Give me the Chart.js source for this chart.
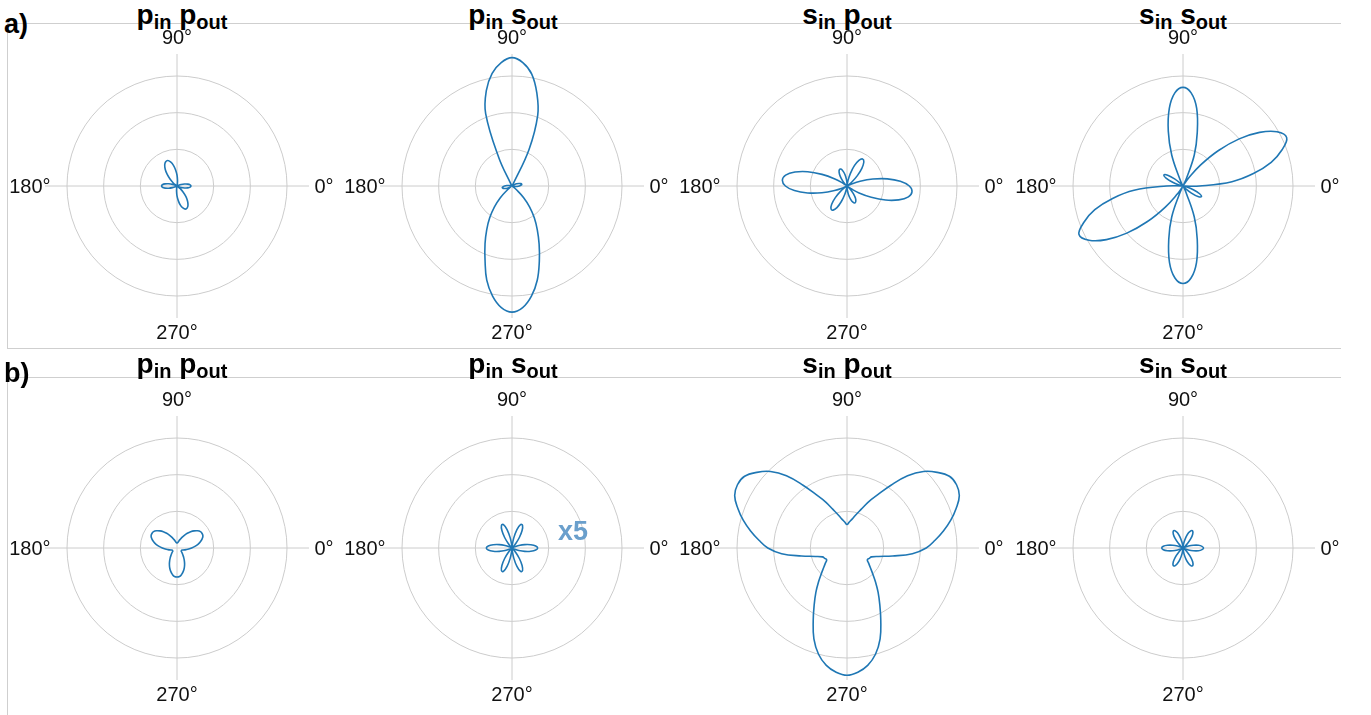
<!DOCTYPE html>
<html>
<head>
<meta charset="utf-8">
<script src="https://cdn.jsdelivr.net/npm/chart.js@4.4.1/dist/chart.umd.min.js"></script>
<style>
  html, body { margin: 0; padding: 0; background: #ffffff; }
  body { width: 1371px; height: 715px; position: relative; overflow: hidden;
         font-family: "Liberation Sans", Arial, sans-serif; }
  canvas { position: absolute; }
  .rule { position: absolute; background: #cfcfcf; }
  .title { position: absolute; font-weight: bold; font-size: 28px; line-height: 28px;
           white-space: nowrap; color: #000; transform: translateX(-50%); }
  .title sub { font-size: 20px; vertical-align: -5px; line-height: 0; }
  .tag { position: absolute; font-weight: bold; font-size: 27px; line-height: 27px; color: #000; }
</style>
</head>
<body>
<script>
// Polar SHG intensity patterns, one series per polarisation channel.
// Each series holds the radius sampled every 5 degrees, starting at 0 deg (counter-clockwise).
const sampleStepDeg = 5;
const cardinalLabels = ['0°', '90°', '180°', '270°'];
const rowTags = ['a)', 'b)'];
const panelTitles = [
  [['p', 'in'], ['p', 'out']],
  [['p', 'in'], ['s', 'out']],
  [['s', 'in'], ['p', 'out']],
  [['s', 'in'], ['s', 'out']]
];
const gainNote = 'x5';

// row a)
const aPinPout = [
  0.38, 0.36, 0.30, 0.21, 0.12, 0.04, 0.00, 0.00, 0.00, 0.00, 0.00, 0.00,
  0.00, 0.00, 0.00, 0.00, 0.06, 0.16, 0.30, 0.44, 0.58, 0.68, 0.74, 0.73,
  0.67, 0.56, 0.42, 0.27, 0.14, 0.04, 0.00, 0.05, 0.13, 0.23, 0.33, 0.40,
  0.42, 0.40, 0.33, 0.23, 0.13, 0.05, 0.00, 0.00, 0.00, 0.00, 0.00, 0.00,
  0.00, 0.00, 0.00, 0.00, 0.05, 0.14, 0.27, 0.40, 0.53, 0.62, 0.67, 0.66,
  0.60, 0.50, 0.38, 0.24, 0.12, 0.04, 0.00, 0.04, 0.12, 0.21, 0.30, 0.36
];
const aPinSout = [
  0.20, 0.25, 0.27, 0.25, 0.20, 0.14, 0.07, 0.02, 0.00, 0.00, 0.00, 0.00,
  0.05, 1.10, 2.05, 2.62, 3.10, 3.38, 3.50, 3.38, 3.12, 2.70, 2.10, 0.85,
  0.05, 0.00, 0.00, 0.00, 0.00, 0.00, 0.00, 0.00, 0.00, 0.02, 0.07, 0.14,
  0.20, 0.25, 0.27, 0.25, 0.20, 0.14, 0.07, 0.05, 0.15, 0.45, 0.75, 1.06,
  1.38, 1.74, 2.15, 2.66, 3.05, 3.33, 3.44, 3.33, 3.05, 2.66, 2.18, 1.75,
  1.38, 1.06, 0.75, 0.45, 0.15, 0.03, 0.00, 0.00, 0.00, 0.02, 0.07, 0.14
];
const aSinPout = [
  1.70, 1.46, 1.12, 0.73, 0.38, 0.12, 0.00, 0.03, 0.18, 0.40, 0.63, 0.80,
  0.85, 0.77, 0.59, 0.35, 0.14, 0.03, 0.07, 0.18, 0.31, 0.42, 0.49, 0.49,
  0.43, 0.32, 0.19, 0.08, 0.01, 0.13, 0.40, 0.75, 1.14, 1.47, 1.70, 1.77,
  1.68, 1.44, 1.09, 0.71, 0.36, 0.11, 0.00, 0.07, 0.24, 0.45, 0.65, 0.76,
  0.76, 0.65, 0.45, 0.24, 0.07, 0.00, 0.03, 0.11, 0.24, 0.37, 0.47, 0.51,
  0.48, 0.40, 0.27, 0.14, 0.04, 0.12, 0.38, 0.73, 1.12, 1.46, 1.70, 1.78
];
const aSinSout = [
  0.45, 1.34, 1.95, 2.49, 2.87, 3.12, 2.96, 2.55, 2.00, 1.37, 0.75, 0.25,
  0.05, 0.20, 0.90, 1.50, 2.15, 2.55, 2.69, 2.55, 2.15, 1.55, 0.90, 0.20,
  0.05, 0.02, 0.00, 0.09, 0.30, 0.51, 0.60, 0.51, 0.30, 0.09, 0.00, 0.03,
  0.45, 1.34, 1.95, 2.49, 2.87, 3.13, 2.96, 2.55, 2.00, 1.37, 0.75, 0.25,
  0.05, 0.20, 0.90, 1.50, 2.12, 2.52, 2.66, 2.52, 2.12, 1.50, 0.90, 0.20,
  0.05, 0.03, 0.00, 0.09, 0.30, 0.50, 0.58, 0.50, 0.30, 0.09, 0.00, 0.03
];

// row b)
const bPinPout = [
  0.40, 0.49, 0.58, 0.66, 0.73, 0.78, 0.79, 0.78, 0.73, 0.66, 0.58, 0.49,
  0.40, 0.32, 0.25, 0.20, 0.16, 0.14, 0.14, 0.14, 0.16, 0.20, 0.25, 0.32,
  0.40, 0.49, 0.58, 0.66, 0.73, 0.78, 0.79, 0.78, 0.73, 0.66, 0.58, 0.49,
  0.40, 0.32, 0.25, 0.20, 0.16, 0.14, 0.14, 0.14, 0.16, 0.20, 0.25, 0.32,
  0.40, 0.49, 0.58, 0.66, 0.73, 0.78, 0.79, 0.78, 0.73, 0.66, 0.58, 0.49,
  0.40, 0.32, 0.25, 0.20, 0.16, 0.14, 0.14, 0.14, 0.16, 0.20, 0.25, 0.32
];
// shown magnified five times (see the x5 note)
const bPinSoutX5 = [
  0.70, 0.65, 0.52, 0.36, 0.20, 0.08, 0.01, 0.00, 0.00, 0.03, 0.15, 0.35,
  0.55, 0.68, 0.68, 0.52, 0.28, 0.07, 0.00, 0.07, 0.28, 0.52, 0.68, 0.68,
  0.55, 0.35, 0.15, 0.03, 0.00, 0.00, 0.01, 0.08, 0.20, 0.36, 0.52, 0.65,
  0.70, 0.65, 0.52, 0.36, 0.20, 0.08, 0.01, 0.00, 0.00, 0.03, 0.15, 0.35,
  0.55, 0.68, 0.68, 0.52, 0.28, 0.07, 0.00, 0.07, 0.28, 0.52, 0.68, 0.68,
  0.55, 0.35, 0.15, 0.03, 0.00, 0.00, 0.01, 0.08, 0.20, 0.36, 0.52, 0.65
];
const bSinPout = [
  2.16, 2.41, 2.67, 2.93, 3.17, 3.38, 3.45, 3.41, 3.21, 2.95, 2.57, 2.09,
  1.68, 1.39, 1.12, 0.94, 0.80, 0.71, 0.64, 0.71, 0.80, 0.94, 1.12, 1.39,
  1.68, 2.09, 2.57, 2.95, 3.21, 3.41, 3.45, 3.38, 3.17, 2.93, 2.67, 2.41,
  2.16, 1.79, 1.26, 0.89, 0.71, 0.67, 0.64, 0.72, 0.83, 0.99, 1.21, 1.48,
  1.79, 2.18, 2.64, 3.00, 3.25, 3.40, 3.47, 3.40, 3.25, 3.00, 2.64, 2.18,
  1.79, 1.48, 1.21, 0.99, 0.83, 0.72, 0.64, 0.67, 0.71, 0.89, 1.26, 1.79
];
const bSinSout = [
  0.56, 0.52, 0.43, 0.29, 0.16, 0.05, 0.00, 0.00, 0.06, 0.18, 0.33, 0.46,
  0.53, 0.52, 0.44, 0.30, 0.15, 0.04, 0.00, 0.04, 0.15, 0.30, 0.44, 0.52,
  0.53, 0.46, 0.33, 0.18, 0.06, 0.00, 0.00, 0.05, 0.16, 0.29, 0.43, 0.54,
  0.58, 0.54, 0.43, 0.29, 0.16, 0.05, 0.00, 0.00, 0.06, 0.18, 0.33, 0.46,
  0.54, 0.54, 0.46, 0.32, 0.17, 0.05, 0.00, 0.05, 0.17, 0.32, 0.46, 0.54,
  0.54, 0.46, 0.33, 0.18, 0.06, 0.00, 0.00, 0.05, 0.16, 0.29, 0.43, 0.52
];

const radialMax = 3.6;
const ringStep = 1;

// ---- page layout ----
const colCenters = [177, 512, 847, 1183];
const rowCenters = [186, 548];
const titleCenters = [182, 513, 847, 1183];
const titleTops = [1, 350];
const canvasSize = 360;
const plotPad = 48;           // leaves a 264px square => 132px outer radius
const gridColor = '#cccccc';
const lineColor = '#1f77b4';

const labelPlacement = {
  '90°':  { gap: 10.5, align: 'center', dy: 0 },
  '270°': { gap: 20.5, align: 'center', dy: 0 },
  '0°':   { gap: 5.5,  align: 'left',   dy: 7 },
  '180°': { gap: -5.5, align: 'right',  dy: 7 }
};

function addRule(x, y, w, h) {
  const d = document.createElement('div');
  d.className = 'rule';
  Object.assign(d.style, { left: x + 'px', top: y + 'px', width: w + 'px', height: h + 'px' });
  document.body.appendChild(d);
}
addRule(7, 23, 1334, 1);
addRule(7, 23, 1, 325);
addRule(7, 348, 1334, 1);
addRule(7, 377, 1334, 1);
addRule(7, 377, 1, 338);

// Radar labels run clockwise from the top, i.e. 90°, 85°, ... in math angle.
const nSamples = 360 / sampleStepDeg;
const radarAngles = Array.from({ length: nSamples }, (_, i) => (90 - i * sampleStepDeg + 360) % 360);
const radarLabels = radarAngles.map(a => a + '°');
function toRadarOrder(series) {
  return radarAngles.map(a => series[a / sampleStepDeg]);
}

const angleLabelPlugin = {
  id: 'angleLabels',
  afterDraw(chart) {
    const s = chart.scales.r;
    const ctx = chart.ctx;
    ctx.save();
    ctx.font = '20px "Liberation Sans", Arial, sans-serif';
    ctx.fillStyle = '#111111';
    ctx.textBaseline = 'alphabetic';
    chart.data.labels.forEach((lab, i) => {
      if (!cardinalLabels.includes(lab)) return;
      const pl = labelPlacement[lab];
      const p = s.getPointPosition(i, s.drawingArea + pl.gap);
      ctx.textAlign = pl.align;
      ctx.fillText(lab, p.x, p.y + pl.dy);
    });
    const note = chart.options.plugins.angleLabels && chart.options.plugins.angleLabels.note;
    if (note) {
      ctx.font = 'bold 27px "Liberation Sans", Arial, sans-serif';
      ctx.fillStyle = '#6a9fcc';
      ctx.textAlign = 'left';
      ctx.fillText(note, s.xCenter + 46, s.yCenter - 8);
    }
    ctx.restore();
  }
};

const panels = [
  [aPinPout, aPinSout, aSinPout, aSinSout],
  [bPinPout, bPinSoutX5, bSinPout, bSinSout]
];

panels.forEach((row, r) => {
  const tag = document.createElement('div');
  tag.className = 'tag';
  tag.textContent = rowTags[r];
  tag.style.left = '4px';
  tag.style.top = (titleTops[r] + 10) + 'px';
  document.body.appendChild(tag);

  row.forEach((series, c) => {
    const t = document.createElement('div');
    t.className = 'title';
    t.innerHTML = panelTitles[c].map(([m, s]) => m + '<sub>' + s + '</sub>').join(' ');
    t.style.left = titleCenters[c] + 'px';
    t.style.top = titleTops[r] + 'px';
    document.body.appendChild(t);

    const cv = document.createElement('canvas');
    cv.width = canvasSize;
    cv.height = canvasSize;
    cv.style.left = (colCenters[c] - canvasSize / 2) + 'px';
    cv.style.top = (rowCenters[r] - canvasSize / 2) + 'px';
    document.body.appendChild(cv);

    new Chart(cv, {
      type: 'radar',
      data: {
        labels: radarLabels,
        datasets: [{
          data: toRadarOrder(series),
          borderColor: lineColor,
          borderWidth: 1.6,
          pointRadius: 0,
          pointHoverRadius: 0,
          fill: false,
          tension: 0.4,
          borderJoinStyle: 'round'
        }]
      },
      options: {
        responsive: false,
        animation: false,
        devicePixelRatio: 1,
        events: [],
        layout: { padding: plotPad },
        plugins: {
          legend: { display: false },
          tooltip: { enabled: false },
          angleLabels: { note: (r === 1 && c === 1) ? gainNote : null }
        },
        scales: {
          r: {
            min: 0,
            max: radialMax,
            ticks: { display: false, stepSize: ringStep },
            grid: {
              circular: true,
              color: gridColor,
              lineWidth: ctx => (ctx.tick && ctx.tick.value > 3 * ringStep + 0.01) ? 0 : 1
            },
            angleLines: {
              color: gridColor,
              lineWidth: ctx => cardinalLabels.includes(ctx.label) ? 1 : 0
            },
            pointLabels: { display: false }
          }
        }
      },
      plugins: [angleLabelPlugin]
    });
  });
});
</script>
</body>
</html>
